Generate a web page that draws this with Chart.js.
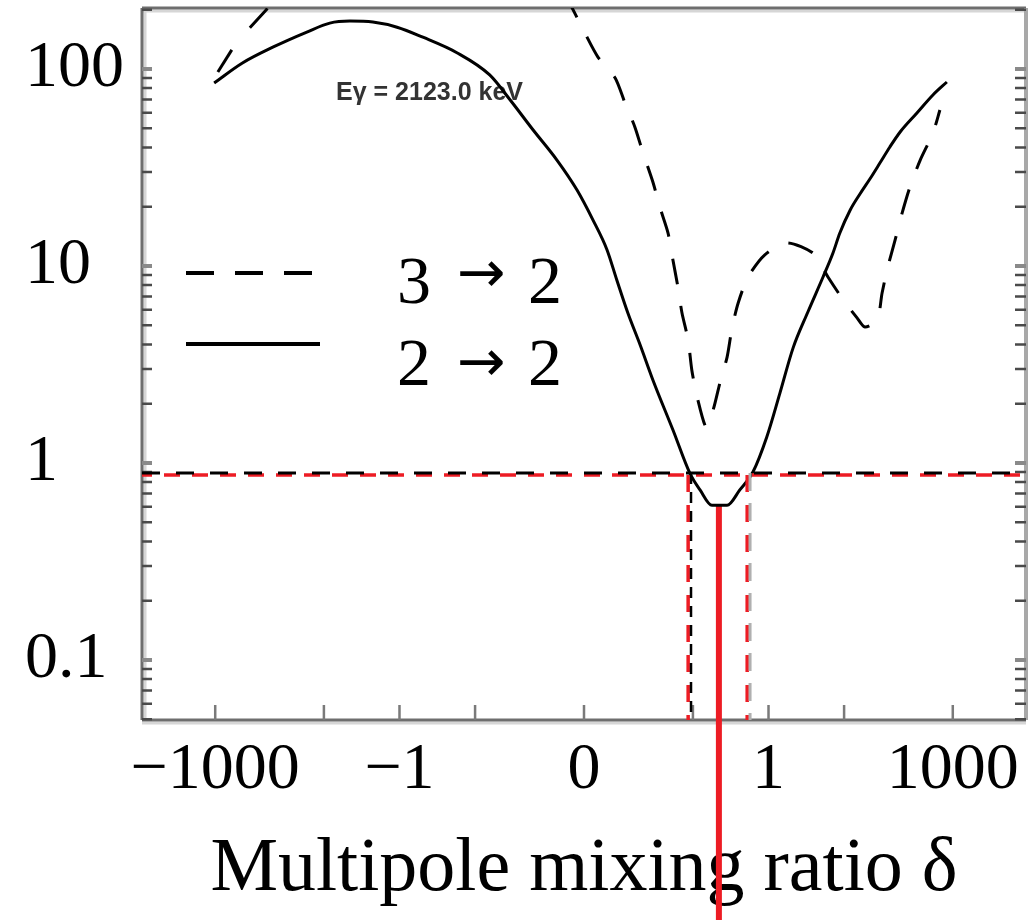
<!DOCTYPE html>
<html>
<head>
<meta charset="utf-8">
<script src="https://cdn.jsdelivr.net/npm/chart.js@4/dist/chart.umd.min.js"></script>
<style>
html,body{margin:0;padding:0;background:#fff;}
#wrap{width:1030px;height:920px;position:relative;}
</style>
</head>
<body>
<div id="wrap"><canvas id="c" width="1030" height="920"></canvas></div>
<script>
// x values are arctan(delta) in degrees; y values are chi^2 (log axis)
const solidAngle = [-90.2, -83.4, -75.9, -67.6, -62.0, -57.1, -51.5, -45.6, -39.3, -31.0, -23.0, -18.0, -12.4, -6.6, -1.7, 2.2, 5.6, 8.0, 10.7, 13.7, 16.8, 21.7, 25.9, 28.3, 31.2, 34.9, 38.0, 41.2, 44.6, 47.8, 51.0, 54.6, 58.3, 60.7, 62.4, 64.9, 67.3, 69.8, 72.2, 74.6, 77.1, 81.2, 85.1, 88.5];
const solidChi2  = [84.9, 107, 129, 154, 171, 175, 173, 163, 145, 121, 93.3, 69.6, 49.0, 34.5, 24.3, 17.1, 12.1, 8.49, 5.77, 3.97, 2.64, 1.47, 0.88, 0.73, 0.61, 0.61, 0.73, 0.90, 1.36, 2.27, 3.84, 5.84, 8.79, 11.6, 14.7, 19.2, 23.2, 27.8, 33.4, 40.2, 47.9, 59.8, 73.8, 85.9];
const hookAngle = [-85.9, -89.3];
const hookChi2  = [125, 96.6];
const dashedAngle = [-81.5, -74.0, -40.0, -4.6, 0.24, 3.4, 7.6, 10.0, 12.4, 14.4, 16.8, 18.5, 20.5, 21.7, 22.9, 23.9, 25.4, 26.3, 27.6, 29.8, 31.5, 33.2, 34.9, 36.1, 37.6, 40.0, 44.1, 49.5, 55.9, 59.5, 62.9, 66.6, 68.5, 71.5, 72.7, 74.1, 75.9, 77.6, 79.5, 82.0, 85.1, 86.8];
const dashedChi2  = [162, 240, null, 240, 152, 115, 90, 67.2, 50.8, 37.5, 26.7, 19.9, 14.7, 10.7, 7.82, 5.77, 4.21, 2.96, 2.16, 1.52, 1.86, 2.58, 3.45, 4.84, 6.49, 8.79, 11.4, 13.1, 11.6, 8.79, 6.88, 5.45, 4.90, 5.32, 7.30, 9.89, 13.6, 18.6, 25.2, 34.5, 47.3, 61.9];
const blackLimitChi2 = 0.89;
const redLimitChi2 = 0.87;
const blackBoundsAngle = [26.1, 40.5];
const redBoundsAngle = [25.4, 39.8];
const bestAngle = 32.9;
const bestChi2 = 0.61;
const bestLineBottom = 0.003;

const xTickDelta  = [-1000, -2, -1, -0.5, 0, 0.5, 1, 2, 1000];
const xTickLabels = ['\u22121000', '', '\u22121', '', '0', '', '1', '', '1000'];
const yTickValues = [0.1, 1, 10, 100];
const yTickLabels = ['0.1', '1', '10', '100'];
const seriesNames = ['3 \u2192 2', '2 \u2192 2'];
const annotationText = 'E\u03b3 = 2123.0 keV';
const xTitle = 'Multipole mixing ratio \u03b4';

const X_MIN = -107.8, X_MAX = 107.8, Y_MIN = 0.0496, Y_MAX = 204;
const SERIF = "'Liberation Serif', 'Times New Roman', serif";
const RED = '#ed1c24';

const toDeg = d => Math.atan(d) * 180 / Math.PI;
const pts = (xs, ys) => xs.map((x, i) => ({x: x, y: ys[i]}));
const vline = (x, yTop, yBottom) => [{x: x, y: yTop}, {x: x, y: yBottom}];

const base = {pointRadius: 0, pointHoverRadius: 0, fill: false, borderCapStyle: 'butt'};

const framePlugin = {
  id: 'frame',
  beforeDatasetsDraw(chart) {
    const {ctx, chartArea: a, scales} = chart;
    const xs = scales.x, ys = scales.y;
    ctx.save();
    ctx.lineCap = 'butt';
    ctx.strokeStyle = '#d6d6d6'; ctx.lineWidth = 3;
    ctx.beginPath();
    ctx.moveTo(a.left, a.top + 3); ctx.lineTo(a.right, a.top + 3);
    ctx.moveTo(a.left + 3, a.top); ctx.lineTo(a.left + 3, a.bottom);
    ctx.moveTo(a.left, a.bottom + 3); ctx.lineTo(a.right, a.bottom + 3);
    ctx.stroke();
    ctx.strokeStyle = '#6e6e6e'; ctx.lineWidth = 3;
    ctx.beginPath();
    ctx.moveTo(a.left, a.top); ctx.lineTo(a.right, a.top);
    ctx.moveTo(a.left, a.top); ctx.lineTo(a.left, a.bottom);
    ctx.moveTo(a.left, a.bottom); ctx.lineTo(a.right, a.bottom);
    ctx.stroke();
    ctx.strokeStyle = '#a8a8a8'; ctx.lineWidth = 4;
    ctx.beginPath();
    ctx.moveTo(a.right, a.top); ctx.lineTo(a.right, a.bottom);
    ctx.stroke();
    // x ticks (inward)
    ctx.strokeStyle = '#7a7a7a'; ctx.lineWidth = 2.5;
    ctx.beginPath();
    xs.ticks.forEach(t => {
      const px = xs.getPixelForValue(t.value);
      ctx.moveTo(px, a.bottom); ctx.lineTo(px, a.bottom - 15);
    });
    ctx.stroke();
    // y ticks (inward, both sides)
    const decades = [0.01, 0.1, 1, 10, 100];
    decades.forEach(d => {
      for (let k = 1; k <= 9; k++) {
        const v = k * d;
        if (v < Y_MIN || v > Y_MAX) continue;
        const py = ys.getPixelForValue(v);
        const major = (k === 1);
        ctx.strokeStyle = major ? '#8a8a8a' : '#4a4a4a';
        ctx.lineWidth = major ? 4 : 2.5;
        ctx.beginPath();
        ctx.moveTo(a.left, py); ctx.lineTo(a.left + 10, py);
        ctx.moveTo(a.right, py); ctx.lineTo(a.right - 11, py);
        ctx.stroke();
      }
    });
    // annotation
    ctx.fillStyle = '#333';
    ctx.font = "bold 25px 'Liberation Sans', Arial, sans-serif";
    ctx.textAlign = 'left'; ctx.textBaseline = 'alphabetic';
    ctx.fillText(annotationText, 336, 100);
    ctx.restore();
  },
  afterDatasetsDraw(chart) {
    const {ctx} = chart;
    ctx.save();
    // legend samples
    ctx.strokeStyle = '#000'; ctx.lineWidth = 4; ctx.lineCap = 'butt';
    ctx.setLineDash([28, 21]);
    ctx.beginPath(); ctx.moveTo(186, 273); ctx.lineTo(314, 273); ctx.stroke();
    ctx.setLineDash([]);
    ctx.beginPath(); ctx.moveTo(186, 344); ctx.lineTo(320, 344); ctx.stroke();
    // legend labels
    ctx.fillStyle = '#000';
    const baselines = [303, 385];
    const arrowY = [277, 366];
    seriesNames.forEach((name, i) => {
      const parts = name.split(' ');
      ctx.font = '68px ' + SERIF;
      ctx.textAlign = 'left'; ctx.textBaseline = 'alphabetic';
      ctx.fillText(parts[0], 397, baselines[i]);
      ctx.fillText(parts[2], 528, baselines[i]);
      ctx.font = "58px 'DejaVu Sans', sans-serif";
      ctx.textAlign = 'center'; ctx.textBaseline = 'middle';
      ctx.fillText(parts[1], 481, arrowY[i]);
    });
    ctx.restore();
  }
};

new Chart(document.getElementById('c'), {
  type: 'line',
  data: {
    datasets: [
      Object.assign({}, base, {data: [{x: X_MIN, y: blackLimitChi2}, {x: X_MAX, y: blackLimitChi2}], borderColor: '#000', borderWidth: 3, borderDash: [18, 16]}),
      Object.assign({}, base, {data: [{x: X_MIN, y: redLimitChi2}, {x: X_MAX, y: redLimitChi2}], borderColor: RED, borderWidth: 3.5, borderDash: [16, 12], borderDashOffset: 6}),
      Object.assign({}, base, {data: vline(blackBoundsAngle[0], blackLimitChi2, Y_MIN), borderColor: '#000', borderWidth: 2.5, borderDash: [11, 8]}),
      Object.assign({}, base, {data: vline(blackBoundsAngle[1], blackLimitChi2, Y_MIN), borderColor: '#b0b0b0', borderWidth: 3, borderDash: [18, 12]}),
      Object.assign({}, base, {data: vline(redBoundsAngle[0], redLimitChi2, Y_MIN), borderColor: RED, borderWidth: 3.5, borderDash: [17, 13]}),
      Object.assign({}, base, {data: vline(redBoundsAngle[1], redLimitChi2, Y_MIN), borderColor: RED, borderWidth: 3.5, borderDash: [17, 13]}),
      Object.assign({}, base, {label: seriesNames[0], data: pts(dashedAngle, dashedChi2), borderColor: '#000', borderWidth: 3, borderDash: [26, 22], tension: 0.25, spanGaps: false}),
      Object.assign({}, base, {label: seriesNames[1], data: pts(solidAngle, solidChi2), borderColor: '#000', borderWidth: 3, cubicInterpolationMode: 'monotone'}),
      Object.assign({}, base, {data: pts(hookAngle, hookChi2), borderColor: '#000', borderWidth: 3}),
      Object.assign({}, base, {data: vline(bestAngle, bestChi2, bestLineBottom), borderColor: RED, borderWidth: 6, clip: false})
    ]
  },
  options: {
    responsive: false,
    animation: false,
    devicePixelRatio: 1,
    layout: {padding: {left: 25, right: 4, top: 8, bottom: 0}},
    plugins: {legend: {display: false}, tooltip: {enabled: false}},
    events: [],
    scales: {
      x: {
        type: 'linear', min: X_MIN, max: X_MAX, bounds: 'data',
        grid: {display: false, drawTicks: false},
        border: {display: false},
        afterBuildTicks: s => { s.ticks = xTickDelta.map(d => ({value: toDeg(d)})); },
        afterFit: s => { s.height = 200; s.paddingLeft = 0; s.paddingRight = 0; s.paddingTop = 0; s.paddingBottom = 0; },
        ticks: {
          autoSkip: false, maxRotation: 0, minRotation: 0, padding: 18, color: '#000',
          font: {family: SERIF, size: 66, lineHeight: 1},
          callback: (v, i) => xTickLabels[i]
        },
        title: {display: true, text: xTitle, color: '#000', font: {family: SERIF, size: 76, lineHeight: 1}, padding: {top: 0, bottom: 12}}
      },
      y: {
        type: 'logarithmic', min: Y_MIN, max: Y_MAX, bounds: 'data',
        grid: {display: false, drawTicks: false},
        border: {display: false},
        afterBuildTicks: s => { s.ticks = yTickValues.map(v => ({value: v})); },
        afterFit: s => { s.width = 117; s.paddingLeft = 0; s.paddingRight = 0; s.paddingTop = 0; s.paddingBottom = 0; },
        ticks: {
          autoSkip: false, crossAlign: 'far', padding: 10, color: '#000',
          font: {family: SERIF, size: 66, lineHeight: 1},
          callback: (v, i) => yTickLabels[i]
        }
      }
    }
  },
  plugins: [framePlugin]
});
</script>
</body>
</html>
